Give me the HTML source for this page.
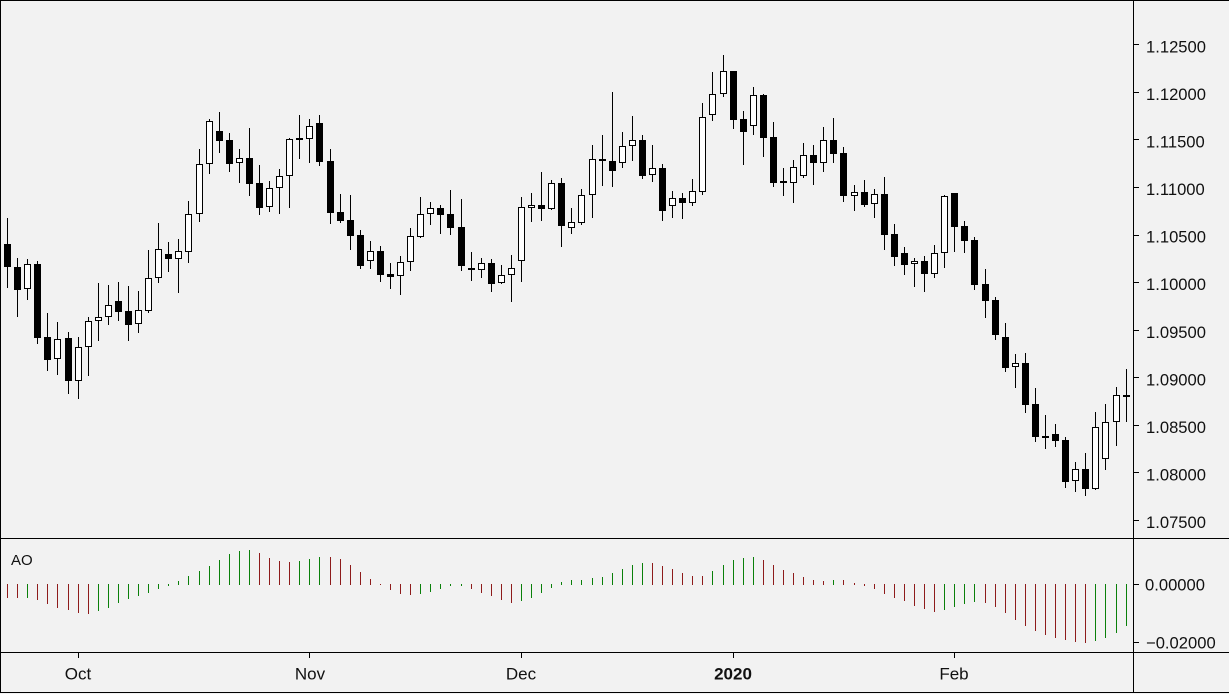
<!DOCTYPE html>
<html><head><meta charset="utf-8"><style>
html,body{margin:0;padding:0;background:#f2f2f2;}
svg{display:block;}
text{font-family:"Liberation Sans",sans-serif;fill:#111;}
</style></head><body>
<svg width="1229" height="694" viewBox="0 0 1229 694" xmlns="http://www.w3.org/2000/svg" shape-rendering="crispEdges">
<rect x="0" y="0" width="1229" height="694" fill="#f2f2f2"/>
<path fill="#000" d="M0 0h1229v1H0zM0 0h1v693H0zM0 692h1229v1H0zM1133 0h1v693h-1zM0 538h1229v1H0zM0 652h1229v1H0z"/>
<path stroke="#000" stroke-width="1" d="M1133 44.5H1139M1133 92.5H1139M1133 139.5H1139M1133 187.5H1139M1133 235.5H1139M1133 282.5H1139M1133 330.5H1139M1133 377.5H1139M1133 425.5H1139M1133 472.5H1139M1133 520.5H1139M1133 584.5H1139M1133 642.5H1139M78.5 652V658M309.5 652V658M521.5 652V658M733.5 652V658M954.5 652V658"/>
<g font-size="16.6">
<text x="1146" y="52.5">1.12500</text>
<text x="1146" y="100">1.12000</text>
<text x="1146" y="147.5">1.11500</text>
<text x="1146" y="195">1.11000</text>
<text x="1146" y="242.5">1.10500</text>
<text x="1146" y="290">1.10000</text>
<text x="1146" y="338">1.09500</text>
<text x="1146" y="385.5">1.09000</text>
<text x="1146" y="433">1.08500</text>
<text x="1146" y="480.5">1.08000</text>
<text x="1146" y="528">1.07500</text>
<text x="1145" y="590.5">0.00000</text>
<text x="1146" y="648.5">−0.02000</text>
</g>
<text x="11" y="565" font-size="15">AO</text>
<g font-size="17" text-anchor="middle">
<text x="78" y="679.5">Oct</text>
<text x="310" y="679.5">Nov</text>
<text x="521" y="679.5">Dec</text>
<text x="733" y="679.5" font-weight="bold">2020</text>
<text x="954" y="679.5">Feb</text>
</g>
<path stroke="#000" stroke-width="1" fill="none" d="M7.5 218V288M17.5 258V317M27.5 259V300M37.5 261V344M47.5 313V371M57.5 322V375M68.5 332V394M78.5 337V399M88.5 317V376M98.5 283V341M108.5 285V325M118.5 282V321M128.5 286V341M138.5 291V333M148.5 250V313M158.5 223V283M168.5 242V272M178.5 239V293M188.5 201V263M199.5 149V222M209.5 119V174M219.5 112V153M229.5 133V172M239.5 149V183M249.5 128V196M259.5 165V215M269.5 181V212M279.5 169V214M289.5 138V208M299.5 115V159M309.5 119V163M319.5 115V166M330.5 149V224M340.5 194V223M350.5 195V250M360.5 230V269M370.5 241V269M380.5 246V282M390.5 263V289M400.5 256V295M410.5 228V271M420.5 197V238M430.5 202V225M440.5 205V234M450.5 190V235M461.5 199V271M471.5 252V281M481.5 258V278M491.5 259V292M501.5 265V284M511.5 255V302M521.5 197V282M531.5 193V222M541.5 172V221M551.5 180V210M561.5 178V247M571.5 208V234M581.5 189V225M592.5 145V218M602.5 135V186M612.5 92V187M622.5 132V168M632.5 116V161M642.5 135V179M652.5 145V182M662.5 164V221M672.5 191V218M682.5 193V219M692.5 179V206M702.5 103V195M712.5 72V121M723.5 55V97M733.5 71V129M743.5 111V165M753.5 87V135M763.5 94V157M773.5 122V187M783.5 168V196M793.5 160V203M803.5 143V178M813.5 145V185M823.5 127V172M833.5 118V163M843.5 147V202M854.5 185V211M864.5 180V207M874.5 189V218M884.5 177V250M894.5 224V266M904.5 247V275M914.5 258V287M924.5 256V292M934.5 245V278M944.5 195V268M954.5 193V252M964.5 221V253M974.5 237V290M985.5 269V318M995.5 297V340M1005.5 323V372M1015.5 354V388M1025.5 353V413M1035.5 388V442M1045.5 415V449M1055.5 424V447M1065.5 437V488M1075.5 462V492M1085.5 453V496M1095.5 412V490M1105.5 404V470M1116.5 387V446M1126.5 369V422"/>
<path fill="#000" d="M4 244h7v23h-7zM14 267h7v23h-7zM24 264h7v25h-7zM34 264h7v74h-7zM44 337h7v23h-7zM54 339h7v20h-7zM65 338h7v43h-7zM75 347h7v34h-7zM85 321h7v26h-7zM95 317h7v4h-7zM105 305h7v12h-7zM115 301h7v11h-7zM125 311h7v14h-7zM135 310h7v14h-7zM145 278h7v33h-7zM155 249h7v29h-7zM165 254h7v5h-7zM175 251h7v8h-7zM185 214h7v38h-7zM196 164h7v50h-7zM206 121h7v43h-7zM216 131h7v10h-7zM226 140h7v24h-7zM236 158h7v5h-7zM246 158h7v26h-7zM256 183h7v25h-7zM266 188h7v19h-7zM276 176h7v12h-7zM286 139h7v37h-7zM296 138h7v2h-7zM306 126h7v13h-7zM316 123h7v39h-7zM327 161h7v52h-7zM337 212h7v9h-7zM347 220h7v16h-7zM357 235h7v31h-7zM367 251h7v10h-7zM377 251h7v24h-7zM387 274h7v3h-7zM397 262h7v14h-7zM407 236h7v26h-7zM417 214h7v23h-7zM427 208h7v6h-7zM437 208h7v7h-7zM447 214h7v14h-7zM458 227h7v39h-7zM468 268h7v2h-7zM478 263h7v7h-7zM488 263h7v21h-7zM498 275h7v8h-7zM508 268h7v7h-7zM518 207h7v54h-7zM528 205h7v3h-7zM538 205h7v4h-7zM548 183h7v26h-7zM558 183h7v43h-7zM568 222h7v6h-7zM578 195h7v28h-7zM589 159h7v36h-7zM599 159h7v2h-7zM609 161h7v10h-7zM619 146h7v17h-7zM629 140h7v6h-7zM639 140h7v36h-7zM649 168h7v7h-7zM659 168h7v43h-7zM669 198h7v8h-7zM679 198h7v5h-7zM689 191h7v12h-7zM699 117h7v75h-7zM709 94h7v21h-7zM720 71h7v23h-7zM730 71h7v49h-7zM740 119h7v13h-7zM750 95h7v31h-7zM760 95h7v43h-7zM770 137h7v46h-7zM780 181h7v2h-7zM790 167h7v16h-7zM800 155h7v21h-7zM810 155h7v8h-7zM820 140h7v23h-7zM830 140h7v14h-7zM840 153h7v43h-7zM851 192h7v4h-7zM861 192h7v13h-7zM871 194h7v10h-7zM881 194h7v41h-7zM891 234h7v23h-7zM901 253h7v12h-7zM911 261h7v3h-7zM921 261h7v13h-7zM931 253h7v21h-7zM941 196h7v57h-7zM951 193h7v34h-7zM961 226h7v15h-7zM971 240h7v45h-7zM982 284h7v17h-7zM992 300h7v35h-7zM1002 337h7v31h-7zM1012 363h7v4h-7zM1022 363h7v42h-7zM1032 404h7v33h-7zM1042 436h7v2h-7zM1052 434h7v7h-7zM1062 440h7v42h-7zM1072 469h7v12h-7zM1082 469h7v20h-7zM1092 427h7v62h-7zM1102 422h7v37h-7zM1113 395h7v27h-7zM1123 395h7v2h-7z"/>
<path fill="#fff" d="M25 265h5v23h-5zM55 340h5v18h-5zM76 348h5v32h-5zM86 322h5v24h-5zM96 318h5v2h-5zM106 306h5v10h-5zM136 311h5v12h-5zM146 279h5v31h-5zM156 250h5v27h-5zM176 252h5v6h-5zM186 215h5v36h-5zM197 165h5v48h-5zM207 122h5v41h-5zM237 159h5v3h-5zM267 189h5v17h-5zM277 177h5v10h-5zM287 140h5v35h-5zM307 127h5v11h-5zM368 252h5v8h-5zM398 263h5v12h-5zM408 237h5v24h-5zM418 215h5v21h-5zM428 209h5v4h-5zM479 264h5v5h-5zM499 276h5v6h-5zM509 269h5v5h-5zM519 208h5v52h-5zM529 206h5v1h-5zM549 184h5v24h-5zM569 223h5v4h-5zM579 196h5v26h-5zM590 160h5v34h-5zM620 147h5v15h-5zM630 141h5v4h-5zM650 169h5v5h-5zM670 199h5v6h-5zM690 192h5v10h-5zM700 118h5v73h-5zM710 95h5v19h-5zM721 72h5v21h-5zM751 96h5v29h-5zM791 168h5v14h-5zM801 156h5v19h-5zM821 141h5v21h-5zM852 193h5v2h-5zM872 195h5v8h-5zM912 262h5v1h-5zM932 254h5v19h-5zM942 197h5v55h-5zM1013 364h5v2h-5zM1073 470h5v10h-5zM1093 428h5v60h-5zM1103 423h5v35h-5zM1114 396h5v25h-5z"/>
<path stroke="#8e1c1c" stroke-width="1" fill="none" d="M7.5 584V598M17.5 584V598M37.5 584V600M47.5 584V604M57.5 584V608M68.5 584V610M78.5 584V613M88.5 584V614M259.5 553V585M269.5 558V585M279.5 561V585M289.5 562V585M330.5 557V585M340.5 559V585M350.5 565V585M360.5 572V585M370.5 579V585M380.5 584V585M390.5 584V590M400.5 584V594M410.5 584V595M471.5 584V589M481.5 584V593M491.5 584V596M501.5 584V600M511.5 584V603M652.5 563V585M662.5 566V585M672.5 569V585M682.5 573V585M692.5 576V585M702.5 576V585M763.5 560V585M773.5 565V585M783.5 570V585M793.5 573V585M803.5 577V585M813.5 580V585M823.5 581V585M843.5 580V585M854.5 583V585M864.5 584V586M874.5 584V589M884.5 584V594M894.5 584V598M904.5 584V601M914.5 584V606M924.5 584V609M934.5 584V612M985.5 584V603M995.5 584V607M1005.5 584V613M1015.5 584V620M1025.5 584V626M1035.5 584V631M1045.5 584V635M1055.5 584V638M1065.5 584V640M1075.5 584V642M1085.5 584V643"/>
<path stroke="#0a800a" stroke-width="1" fill="none" d="M27.5 584V598M98.5 584V611M108.5 584V608M118.5 584V603M128.5 584V599M138.5 584V596M148.5 584V593M158.5 584V589M168.5 584V586M178.5 581V585M188.5 576V585M199.5 571V585M209.5 566V585M219.5 560V585M229.5 554V585M239.5 551V585M249.5 550V585M299.5 561V585M309.5 559V585M319.5 557V585M420.5 584V594M430.5 584V592M440.5 584V589M450.5 584V586M461.5 584V586M521.5 584V601M531.5 584V598M541.5 584V593M551.5 584V588M561.5 582V585M571.5 580V585M581.5 580V585M592.5 578V585M602.5 577V585M612.5 573V585M622.5 569V585M632.5 565V585M642.5 563V585M712.5 571V585M723.5 565V585M733.5 560V585M743.5 558V585M753.5 557V585M833.5 580V585M944.5 584V610M954.5 584V607M964.5 584V604M974.5 584V602M1095.5 584V641M1105.5 584V638M1116.5 584V633M1126.5 584V626"/>
</svg>
</body></html>
